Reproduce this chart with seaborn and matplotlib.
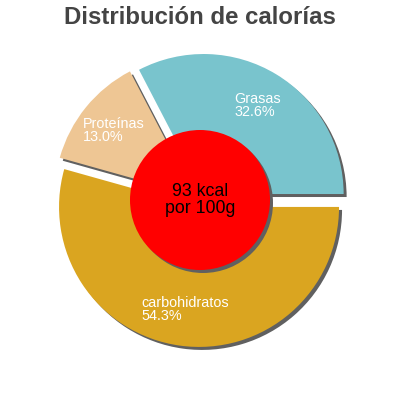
import matplotlib
matplotlib.use("Agg")
import matplotlib.pyplot as plt
import seaborn as sns

sns.set_theme(style="white")
plt.rcParams['font.family'] = ['Liberation Sans', 'DejaVu Sans']

categories = ["carbohidratos", "Proteínas", "Grasas"]
values = [54.3, 13.0, 32.6]
colors = ["#DAA520", "#EEC694", "#79C4CD"]
title = "Distribución de calorías"
center_text = "93 kcal\npor 100g"

fig = plt.figure(figsize=(4, 4), dpi=100)
ax = fig.add_axes([0, 0, 1, 1])
lim = 200 / 140

explode = [0.05] * len(values)
sh = 3 / 140
# shadow pie
ax.pie(values, colors=["#606060"] * len(values), startangle=0, counterclock=False,
       explode=explode, radius=1.0, center=(sh, -sh), frame=True,
       wedgeprops=dict(linewidth=0, zorder=1))
wedges, texts, autotexts = ax.pie(
    values, colors=colors, startangle=0, counterclock=False, explode=explode,
    radius=1.0, center=(0, 0), frame=True, autopct="%1.1f%%", pctdistance=0.74,
    wedgeprops=dict(linewidth=0, zorder=2),
    textprops=dict(color="white", fontsize=10.4))
for t, lab, v in zip(autotexts, categories, values):
    t.set_text(f"{lab}\n{v:.1f}%")
    t.set_multialignment("left")
    t.set_linespacing(0.9)
    t.set_zorder(5)

ax.set_xlim(-lim, lim)
ax.set_ylim(-lim, lim)
ax.set_aspect("equal")
ax.axis("off")

ax.add_patch(plt.Circle((sh, -sh), 0.5, color="#606060", zorder=3, lw=0))
ax.add_patch(plt.Circle((0, 0), 0.5, color="#FF0000", zorder=4, lw=0))
ax.text(0, 0, center_text, ha="center", va="center", fontsize=12.8,
        color="black", zorder=6, linespacing=0.95)

fig.text(0.5, 1 - 18 / 400, title, ha="center", va="center", fontsize=17.3,
         fontweight="bold", color="#444444")

fig.savefig("out.png", dpi=100, facecolor="white")
